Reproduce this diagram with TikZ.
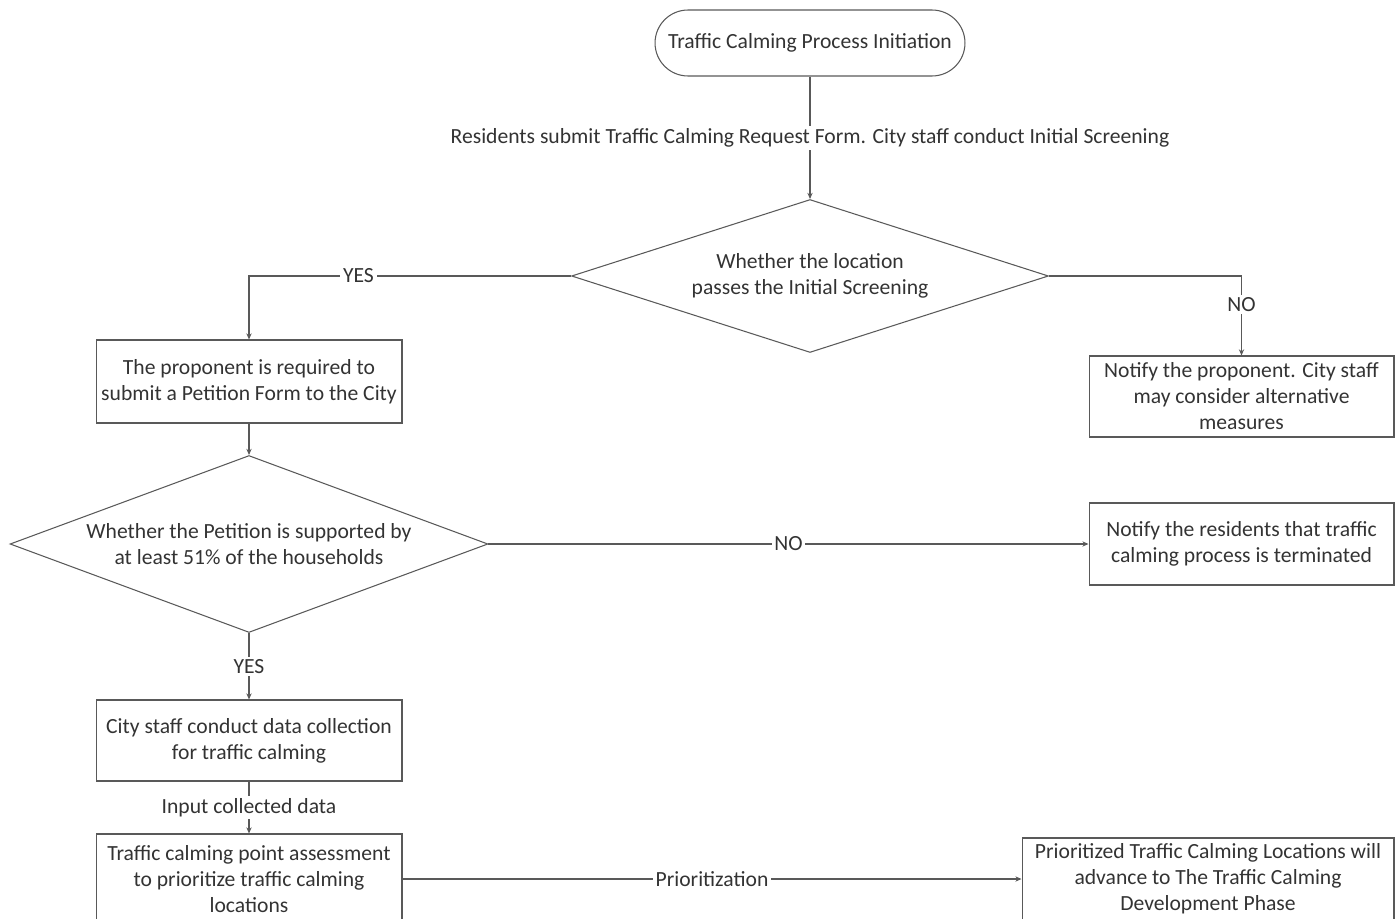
\documentclass[tikz,border=0pt]{standalone}
\usepackage{fontspec}
\setmainfont{Carlito}
\usetikzlibrary{shapes.geometric,arrows.meta}
\definecolor{linegray}{HTML}{595959}
\definecolor{textgray}{HTML}{333333}
\begin{document}
\begin{tikzpicture}[x=0.02cm, y=-0.02cm, line width=0.6pt, color=linegray, text=textgray,
  >={Stealth[length=3.5pt,width=3pt]},
  every node/.style={font=\fontsize{12.3}{14.8}\selectfont, align=center},
  box/.style={draw, rectangle, inner sep=0pt},
  test/.style={draw, diamond, aspect=3, inner sep=0pt},
  lbl/.style={fill=white, inner sep=1.5pt}]
%\draw[help lines, step=50] (0,0) grid (1399,919);
\useasboundingbox (0,0) rectangle (1399,919);
%%%%%%%%%%%%%%%%%%%%%%%%%%%%%%% Traffic calming request / screening
\node(init)[draw, rounded corners=0.66cm, minimum width=6.2cm, minimum height=1.32cm] at (810,43){Traffic Calming Process Initiation};
\node(screen)[test, minimum width=9.54cm, minimum height=3.06cm] at (810,276){Whether the location\\passes the Initial Screening};
\node(petition)[box, minimum width=6.12cm, minimum height=1.66cm] at (249,381.5){The proponent is required to\\submit a Petition Form to the City};
\node(notify)[box, minimum width=6.1cm, minimum height=1.62cm] at (1241.5,396.5){Notify the proponent. City staff\\may consider alternative\\measures};
%%%%%%%%%%%%%%%%%%%%%%%%%%%%%%% Petition / data collection / prioritization
\node(vote)[test, minimum width=9.56cm, minimum height=3.54cm] at (249,544){Whether the Petition is supported by\\at least 51\% of the households};
\node(terminate)[box, minimum width=6.1cm, minimum height=1.64cm] at (1241.5,544){Notify the residents that traffic\\calming process is terminated};
\node(collect)[box, minimum width=6.12cm, minimum height=1.62cm] at (249,740.5){City staff conduct data collection\\for traffic calming};
\node(assess)[box, minimum width=6.12cm, minimum height=1.8cm] at (249,879){Traffic calming point assessment\\to prioritize traffic calming\\locations};
\node(develop)[box, minimum width=7.44cm, minimum height=1.64cm] at (1208,879){Prioritized Traffic Calming Locations will\\advance to The Traffic Calming\\Development Phase};
\draw[->] (init) -- node[lbl]{Residents submit Traffic Calming Request Form. City staff conduct Initial Screening}(screen);
\draw[->] (screen.west) -| node[lbl, pos=0.33]{YES}(petition);
\draw[->] (screen.east) -| node[lbl, pos=0.68]{NO}(notify);
\draw[->] (petition) -- (vote);
\draw[->] (vote) -- node[lbl]{NO}(terminate);
\draw[->] (vote) -- node[lbl]{YES}(collect);
\draw[->] (collect) -- node[lbl]{Input collected data}(assess);
\draw[->] (assess) -- node[lbl]{Prioritization}(develop);
\end{tikzpicture}
\end{document}
